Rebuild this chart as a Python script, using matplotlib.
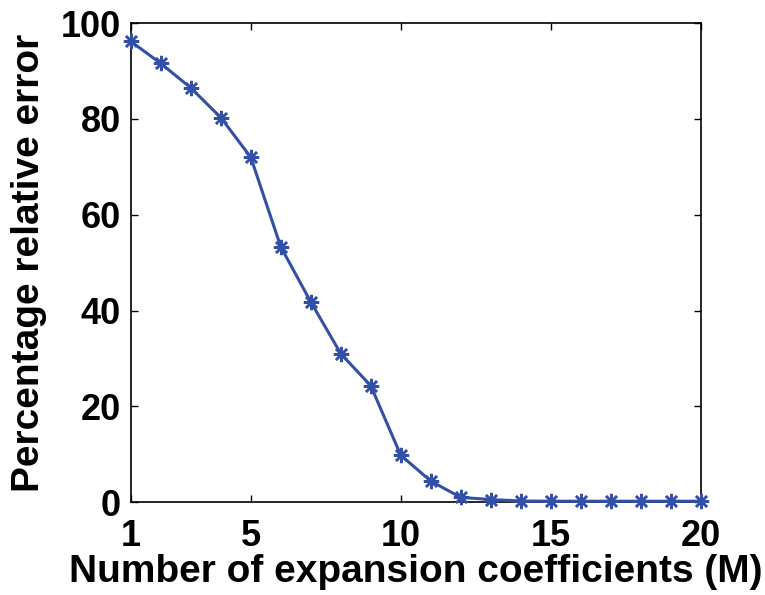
import matplotlib
matplotlib.use('Agg')
import matplotlib.pyplot as plt

matplotlib.rcParams['font.family'] = 'Liberation Sans'
matplotlib.rcParams['font.weight'] = 'bold'
matplotlib.rcParams['font.size'] = 26

# number of expansion coefficients vs. percentage relative error
m = [1, 2, 3, 4, 5, 6, 7, 8, 9, 10, 11, 12, 13, 14, 15, 16, 17, 18, 19, 20]
err = [96.2, 91.6, 86.5, 80.3, 72.0, 53.3, 41.8, 31.0, 24.3, 9.8,
       4.4, 1.0, 0.55, 0.25, 0.2, 0.2, 0.2, 0.2, 0.2, 0.2]
xticks = [1, 5, 10, 15, 20]
yticks = [0, 20, 40, 60, 80, 100]

fig = plt.figure(figsize=(7.65, 5.95), dpi=100)
ax = fig.add_axes([0.171, 0.156, 0.745, 0.805])

ax.plot(m, err, color='#3350A6', linewidth=2.2, marker=(8, 2, 0),
        markersize=11, markeredgewidth=1.8, clip_on=False, zorder=3)

ax.set_xlim(1, 20)
ax.set_ylim(0, 100)
ax.set_xticks(xticks)
ax.set_yticks(yticks)
ax.tick_params(direction='in', length=5, width=1, top=True, right=True)
ax.tick_params(axis='x', pad=12)
ax.tick_params(axis='y', pad=7)
for s in ax.spines.values():
    s.set_linewidth(1.2)

ax.set_xlabel('Number of expansion coefficients (M)', fontweight='bold',
              fontsize=28, labelpad=0)
ax.set_ylabel('Percentage relative error', fontweight='bold',
              fontsize=28, labelpad=10)

fig.savefig('out.png', dpi=100)
